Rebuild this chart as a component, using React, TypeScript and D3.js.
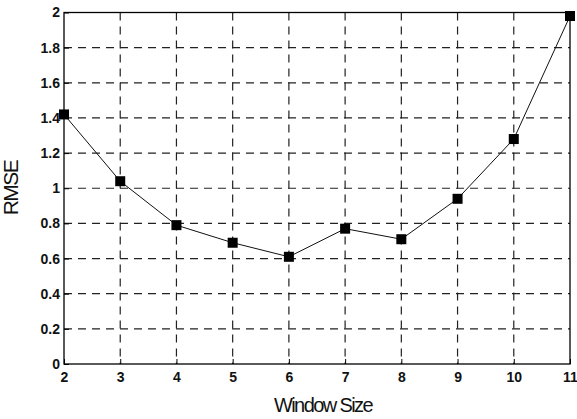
import React from 'react';
import * as d3 from 'd3';

const windowSizes = [2, 3, 4, 5, 6, 7, 8, 9, 10, 11];
const rmseValues = [1.42, 1.04, 0.79, 0.69, 0.61, 0.77, 0.71, 0.94, 1.28, 1.98];
const yTicks = [0, 0.2, 0.4, 0.6, 0.8, 1, 1.2, 1.4, 1.6, 1.8, 2];

const width = 577;
const height = 419;

const App: React.FC = () => {
  const svgRef = React.useRef<SVGSVGElement>(null);

  React.useEffect(() => {
    if (!svgRef.current) return;
    const svg = d3.select(svgRef.current);
    svg.selectAll("*").remove();

    const margin = { top: 12.5, right: 7, bottom: 55, left: 64 };
    const w = width - margin.left - margin.right;
    const h = height - margin.top - margin.bottom;

    const g = svg.append("g")
      .attr("transform", `translate(${margin.left},${margin.top})`);

    const x = d3.scaleLinear().domain([2, 11]).range([0, w]);
    const y = d3.scaleLinear().domain([0, 2]).range([h, 0]);

    // grid
    g.append("g")
      .selectAll("line")
      .data(windowSizes.slice(1, -1))
      .enter().append("line")
      .attr("x1", d => x(d)).attr("x2", d => x(d))
      .attr("y1", 0).attr("y2", h)
      .attr("stroke", "#222")
      .attr("stroke-width", 1.2)
      .attr("stroke-dasharray", "8,6");

    g.append("g")
      .selectAll("line")
      .data(yTicks.slice(1, -1))
      .enter().append("line")
      .attr("x1", 0).attr("x2", w)
      .attr("y1", d => y(d)).attr("y2", d => y(d))
      .attr("stroke", "#222")
      .attr("stroke-width", 1.2)
      .attr("stroke-dasharray", "8,6");

    // box
    g.append("rect")
      .attr("width", w).attr("height", h)
      .attr("fill", "none")
      .attr("stroke", "#000")
      .attr("stroke-width", 1.3);

    const font = "'Liberation Sans', Arial, sans-serif";

    // x axis
    const xAxis = g.append("g")
      .attr("transform", `translate(0,${h})`)
      .call(d3.axisBottom(x).tickValues(windowSizes).tickFormat(d3.format("d")).tickSize(-5).tickPadding(8));
    xAxis.select(".domain").remove();
    xAxis.selectAll("text")
      .attr("font-family", font)
      .attr("font-size", 14)
      .attr("font-weight", "bold")
      .attr("fill", "#111");

    // y axis
    const yAxis = g.append("g")
      .call(d3.axisLeft(y).tickValues(yTicks).tickFormat(d => String(+d)).tickSize(-5).tickPadding(4));
    yAxis.select(".domain").remove();
    yAxis.selectAll("text")
      .attr("font-family", font)
      .attr("font-size", 14)
      .attr("font-weight", "bold")
      .attr("fill", "#111");

    // line
    const data = windowSizes.map((s, i) => ({ s, v: rmseValues[i] }));
    const line = d3.line<{ s: number; v: number }>()
      .x(d => x(d.s))
      .y(d => y(d.v));

    g.append("path")
      .datum(data)
      .attr("fill", "none")
      .attr("stroke", "#111")
      .attr("stroke-width", 1)
      .attr("d", line);

    g.selectAll(".marker")
      .data(data)
      .enter().append("rect")
      .attr("class", "marker")
      .attr("x", d => x(d.s) - 5)
      .attr("y", d => y(d.v) - 5)
      .attr("width", 10)
      .attr("height", 10)
      .attr("fill", "#000");

    // labels
    svg.append("text")
      .attr("x", 323)
      .attr("y", 412)
      .attr("text-anchor", "middle")
      .attr("font-family", font)
      .attr("font-size", 20)
      .attr("letter-spacing", "-1.6")
      .attr("fill", "#111")
      .text("Window Size");

    svg.append("text")
      .attr("transform", `translate(18,188) rotate(-90)`)
      .attr("text-anchor", "middle")
      .attr("font-family", font)
      .attr("font-size", 21)
      .attr("letter-spacing", "-1.5")
      .attr("fill", "#111")
      .text("RMSE");
  }, []);

  return (
    <svg
      ref={svgRef}
      width={width}
      height={height}
      style={{ position: "absolute", left: 0, top: 0, background: "#fff" }}
    />
  );
};

export default App;
